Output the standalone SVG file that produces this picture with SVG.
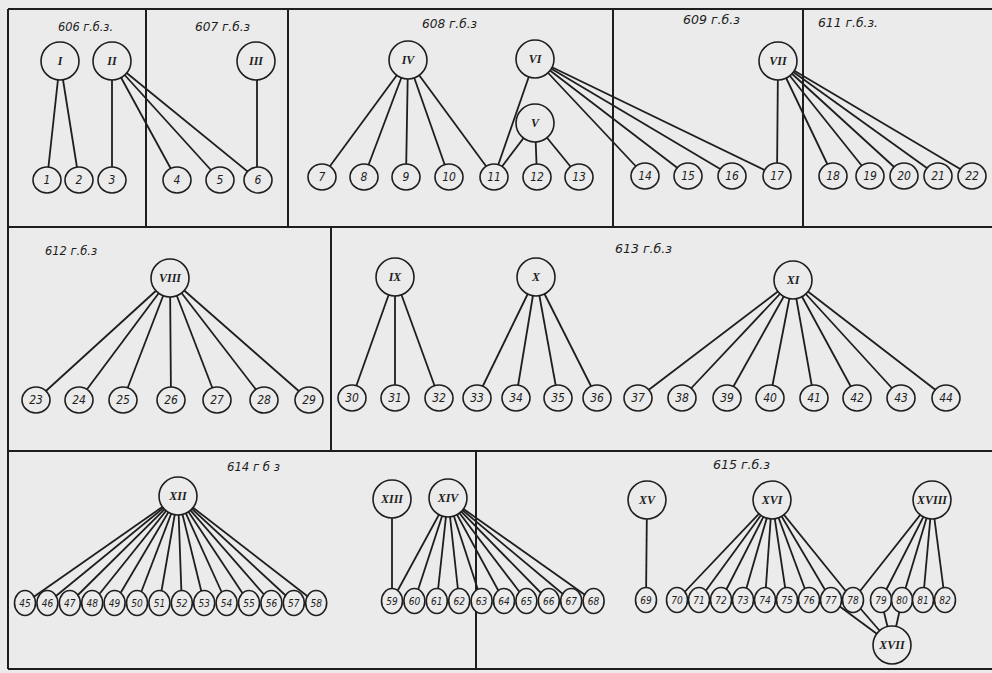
<svg xmlns="http://www.w3.org/2000/svg" width="992" height="673" viewBox="0 0 992 673">
<style>
.bg{fill:#ebebeb}
.fr{stroke:#1e1e1e;stroke-width:2;fill:none}
.e{stroke:#1e1e1e;stroke-width:1.8;fill:none}
.c{fill:#ebebeb;stroke:#1e1e1e;stroke-width:1.6}
.t{font-family:"DejaVu Sans Condensed","DejaVu Sans","Liberation Sans",sans-serif;font-style:italic;font-size:12px;fill:#1e1e1e;text-anchor:middle}
.s{font-size:10px}
.r{font-family:"Liberation Serif","DejaVu Serif",serif;font-style:italic;font-weight:bold;font-size:12px;fill:#1e1e1e;text-anchor:middle}
.lab{font-family:"DejaVu Sans Condensed","DejaVu Sans","Liberation Sans",sans-serif;font-style:italic;font-size:13px;fill:#1e1e1e}
</style>
<rect class="bg" x="0" y="0" width="992" height="673"/>
<g id="frame" class="fr">
<line x1="8" y1="9" x2="992" y2="9"/>
<line x1="8" y1="9" x2="8" y2="669"/>
<line x1="8" y1="227" x2="992" y2="227"/>
<line x1="8" y1="451" x2="992" y2="451"/>
<line x1="8" y1="669" x2="992" y2="669"/>
<line x1="146" y1="9" x2="146" y2="227"/>
<line x1="288" y1="9" x2="288" y2="227"/>
<line x1="613" y1="9" x2="613" y2="227"/>
<line x1="803" y1="9" x2="803" y2="227"/>
<line x1="331" y1="227" x2="331" y2="451"/>
<line x1="476" y1="451" x2="476" y2="669"/>
</g>
<g id="labels">
<text class="lab" x="58" y="31" textLength="55" lengthAdjust="spacingAndGlyphs">606 г.б.з.</text>
<text class="lab" x="195" y="31" textLength="55" lengthAdjust="spacingAndGlyphs">607 г.б.з</text>
<text class="lab" x="422" y="28" textLength="55" lengthAdjust="spacingAndGlyphs">608 г.б.з</text>
<text class="lab" x="683" y="24" textLength="57" lengthAdjust="spacingAndGlyphs">609 г.б.з</text>
<text class="lab" x="818" y="27" textLength="60" lengthAdjust="spacingAndGlyphs">611 г.б.з.</text>
<text class="lab" x="45" y="255" textLength="52" lengthAdjust="spacingAndGlyphs">612 г.б.з</text>
<text class="lab" x="615" y="253" textLength="57" lengthAdjust="spacingAndGlyphs">613 г.б.з</text>
<text class="lab" x="227" y="471" textLength="53" lengthAdjust="spacingAndGlyphs">614 г б з</text>
<text class="lab" x="713" y="469" textLength="57" lengthAdjust="spacingAndGlyphs">615 г.б.з</text>
</g>
<g id="connectors" class="e">
<line x1="60" y1="61" x2="47" y2="180"/>
<line x1="60" y1="61" x2="79" y2="180"/>
<line x1="112" y1="61" x2="112" y2="180"/>
<line x1="112" y1="61" x2="177" y2="180"/>
<line x1="112" y1="61" x2="220" y2="180"/>
<line x1="112" y1="61" x2="258" y2="180"/>
<line x1="257" y1="61" x2="257" y2="180"/>
<line x1="408" y1="60" x2="322" y2="177"/>
<line x1="408" y1="60" x2="364" y2="177"/>
<line x1="408" y1="60" x2="406" y2="177"/>
<line x1="408" y1="60" x2="449" y2="177"/>
<line x1="408" y1="60" x2="494" y2="177"/>
<line x1="535" y1="59" x2="494" y2="177"/>
<line x1="535" y1="123" x2="494" y2="177"/>
<line x1="535" y1="123" x2="537" y2="177"/>
<line x1="535" y1="123" x2="579" y2="177"/>
<line x1="535" y1="59" x2="645" y2="176"/>
<line x1="535" y1="59" x2="688" y2="176"/>
<line x1="535" y1="59" x2="732" y2="176"/>
<line x1="535" y1="59" x2="777" y2="176"/>
<line x1="778" y1="61" x2="777" y2="176"/>
<line x1="778" y1="61" x2="833" y2="176"/>
<line x1="778" y1="61" x2="870" y2="176"/>
<line x1="778" y1="61" x2="904" y2="176"/>
<line x1="778" y1="61" x2="938" y2="176"/>
<line x1="778" y1="61" x2="972" y2="176"/>
<line x1="170" y1="278" x2="36" y2="400"/>
<line x1="170" y1="278" x2="79" y2="400"/>
<line x1="170" y1="278" x2="123" y2="400"/>
<line x1="170" y1="278" x2="171" y2="400"/>
<line x1="170" y1="278" x2="217" y2="400"/>
<line x1="170" y1="278" x2="264" y2="400"/>
<line x1="170" y1="278" x2="309" y2="400"/>
<line x1="395" y1="277" x2="352" y2="398"/>
<line x1="395" y1="277" x2="395" y2="398"/>
<line x1="395" y1="277" x2="439" y2="398"/>
<line x1="536" y1="277" x2="477" y2="398"/>
<line x1="536" y1="277" x2="516" y2="398"/>
<line x1="536" y1="277" x2="558" y2="398"/>
<line x1="536" y1="277" x2="597" y2="398"/>
<line x1="793" y1="280" x2="638" y2="398"/>
<line x1="793" y1="280" x2="682" y2="398"/>
<line x1="793" y1="280" x2="727" y2="398"/>
<line x1="793" y1="280" x2="770" y2="398"/>
<line x1="793" y1="280" x2="814" y2="398"/>
<line x1="793" y1="280" x2="857" y2="398"/>
<line x1="793" y1="280" x2="901" y2="398"/>
<line x1="793" y1="280" x2="946" y2="398"/>
<line x1="178" y1="496" x2="25" y2="603"/>
<line x1="178" y1="496" x2="47.4" y2="603"/>
<line x1="178" y1="496" x2="69.8" y2="603"/>
<line x1="178" y1="496" x2="92.2" y2="603"/>
<line x1="178" y1="496" x2="114.6" y2="603"/>
<line x1="178" y1="496" x2="137" y2="603"/>
<line x1="178" y1="496" x2="159.4" y2="603"/>
<line x1="178" y1="496" x2="181.8" y2="603"/>
<line x1="178" y1="496" x2="204.2" y2="603"/>
<line x1="178" y1="496" x2="226.6" y2="603"/>
<line x1="178" y1="496" x2="249" y2="603"/>
<line x1="178" y1="496" x2="271.4" y2="603"/>
<line x1="178" y1="496" x2="293.8" y2="603"/>
<line x1="178" y1="496" x2="316.2" y2="603"/>
<line x1="392" y1="499" x2="392" y2="601"/>
<line x1="448" y1="498" x2="392" y2="601"/>
<line x1="448" y1="498" x2="414.4" y2="601"/>
<line x1="448" y1="498" x2="436.8" y2="601"/>
<line x1="448" y1="498" x2="459.2" y2="601"/>
<line x1="448" y1="498" x2="481.6" y2="601"/>
<line x1="448" y1="498" x2="504" y2="601"/>
<line x1="448" y1="498" x2="526.4" y2="601"/>
<line x1="448" y1="498" x2="548.8" y2="601"/>
<line x1="448" y1="498" x2="571.2" y2="601"/>
<line x1="448" y1="498" x2="593.6" y2="601"/>
<line x1="647" y1="500" x2="646" y2="600"/>
<line x1="772" y1="500" x2="677" y2="600"/>
<line x1="772" y1="500" x2="699" y2="600"/>
<line x1="772" y1="500" x2="721" y2="600"/>
<line x1="772" y1="500" x2="743" y2="600"/>
<line x1="772" y1="500" x2="765" y2="600"/>
<line x1="772" y1="500" x2="787" y2="600"/>
<line x1="772" y1="500" x2="809" y2="600"/>
<line x1="772" y1="500" x2="831" y2="600"/>
<line x1="772" y1="500" x2="853" y2="600"/>
<line x1="932" y1="500" x2="853" y2="600"/>
<line x1="932" y1="500" x2="881" y2="600"/>
<line x1="932" y1="500" x2="902" y2="600"/>
<line x1="932" y1="500" x2="923" y2="600"/>
<line x1="932" y1="500" x2="945" y2="600"/>
<line x1="892" y1="645" x2="831" y2="600"/>
<line x1="892" y1="645" x2="853" y2="600"/>
<line x1="892" y1="645" x2="881" y2="600"/>
<line x1="892" y1="645" x2="902" y2="600"/>
</g>
<g id="n-I"><circle class="c" cx="60" cy="61" r="19"/><text class="r" x="60" y="65">I</text></g>
<g id="n-II"><circle class="c" cx="112" cy="61" r="19"/><text class="r" x="112" y="65">II</text></g>
<g id="n-III"><circle class="c" cx="256" cy="61" r="19"/><text class="r" x="256" y="65">III</text></g>
<g id="n-IV"><circle class="c" cx="408" cy="60" r="19"/><text class="r" x="408" y="64">IV</text></g>
<g id="n-V"><circle class="c" cx="535" cy="123" r="19"/><text class="r" x="535" y="127">V</text></g>
<g id="n-VI"><circle class="c" cx="535" cy="59" r="19"/><text class="r" x="535" y="63">VI</text></g>
<g id="n-VII"><circle class="c" cx="778" cy="61" r="19"/><text class="r" x="778" y="65">VII</text></g>
<g id="n-VIII"><circle class="c" cx="170" cy="278" r="19"/><text class="r" x="170" y="282">VIII</text></g>
<g id="n-IX"><circle class="c" cx="395" cy="277" r="19"/><text class="r" x="395" y="281">IX</text></g>
<g id="n-X"><circle class="c" cx="536" cy="277" r="19"/><text class="r" x="536" y="281">X</text></g>
<g id="n-XI"><circle class="c" cx="793" cy="280" r="19"/><text class="r" x="793" y="284">XI</text></g>
<g id="n-XII"><circle class="c" cx="178" cy="496" r="19"/><text class="r" x="178" y="500">XII</text></g>
<g id="n-XIII"><circle class="c" cx="392" cy="499" r="19"/><text class="r" x="392" y="503">XIII</text></g>
<g id="n-XIV"><circle class="c" cx="448" cy="498" r="19"/><text class="r" x="448" y="502">XIV</text></g>
<g id="n-XV"><circle class="c" cx="647" cy="500" r="19"/><text class="r" x="647" y="504">XV</text></g>
<g id="n-XVI"><circle class="c" cx="772" cy="500" r="19"/><text class="r" x="772" y="504">XVI</text></g>
<g id="n-XVII"><circle class="c" cx="892" cy="645" r="19"/><text class="r" x="892" y="649">XVII</text></g>
<g id="n-XVIII"><circle class="c" cx="932" cy="500" r="19"/><text class="r" x="932" y="504">XVIII</text></g>
<g id="n-1"><ellipse class="c" cx="47" cy="180" rx="14" ry="13"/><text class="t" x="47" y="184">1</text></g>
<g id="n-2"><ellipse class="c" cx="79" cy="180" rx="14" ry="13"/><text class="t" x="79" y="184">2</text></g>
<g id="n-3"><ellipse class="c" cx="112" cy="180" rx="14" ry="13"/><text class="t" x="112" y="184">3</text></g>
<g id="n-4"><ellipse class="c" cx="177" cy="180" rx="14" ry="13"/><text class="t" x="177" y="184">4</text></g>
<g id="n-5"><ellipse class="c" cx="220" cy="180" rx="14" ry="13"/><text class="t" x="220" y="184">5</text></g>
<g id="n-6"><ellipse class="c" cx="258" cy="180" rx="14" ry="13"/><text class="t" x="258" y="184">6</text></g>
<g id="n-7"><ellipse class="c" cx="322" cy="177" rx="14" ry="13"/><text class="t" x="322" y="181">7</text></g>
<g id="n-8"><ellipse class="c" cx="364" cy="177" rx="14" ry="13"/><text class="t" x="364" y="181">8</text></g>
<g id="n-9"><ellipse class="c" cx="406" cy="177" rx="14" ry="13"/><text class="t" x="406" y="181">9</text></g>
<g id="n-10"><ellipse class="c" cx="449" cy="177" rx="14" ry="13"/><text class="t" x="449" y="181">10</text></g>
<g id="n-11"><ellipse class="c" cx="494" cy="177" rx="14" ry="13"/><text class="t" x="494" y="181">11</text></g>
<g id="n-12"><ellipse class="c" cx="537" cy="177" rx="14" ry="13"/><text class="t" x="537" y="181">12</text></g>
<g id="n-13"><ellipse class="c" cx="579" cy="177" rx="14" ry="13"/><text class="t" x="579" y="181">13</text></g>
<g id="n-14"><ellipse class="c" cx="645" cy="176" rx="14" ry="13"/><text class="t" x="645" y="180">14</text></g>
<g id="n-15"><ellipse class="c" cx="688" cy="176" rx="14" ry="13"/><text class="t" x="688" y="180">15</text></g>
<g id="n-16"><ellipse class="c" cx="732" cy="176" rx="14" ry="13"/><text class="t" x="732" y="180">16</text></g>
<g id="n-17"><ellipse class="c" cx="777" cy="176" rx="14" ry="13"/><text class="t" x="777" y="180">17</text></g>
<g id="n-18"><ellipse class="c" cx="833" cy="176" rx="14" ry="13"/><text class="t" x="833" y="180">18</text></g>
<g id="n-19"><ellipse class="c" cx="870" cy="176" rx="14" ry="13"/><text class="t" x="870" y="180">19</text></g>
<g id="n-20"><ellipse class="c" cx="904" cy="176" rx="14" ry="13"/><text class="t" x="904" y="180">20</text></g>
<g id="n-21"><ellipse class="c" cx="938" cy="176" rx="14" ry="13"/><text class="t" x="938" y="180">21</text></g>
<g id="n-22"><ellipse class="c" cx="972" cy="176" rx="14" ry="13"/><text class="t" x="972" y="180">22</text></g>
<g id="n-23"><ellipse class="c" cx="36" cy="400" rx="14" ry="13"/><text class="t" x="36" y="404">23</text></g>
<g id="n-24"><ellipse class="c" cx="79" cy="400" rx="14" ry="13"/><text class="t" x="79" y="404">24</text></g>
<g id="n-25"><ellipse class="c" cx="123" cy="400" rx="14" ry="13"/><text class="t" x="123" y="404">25</text></g>
<g id="n-26"><ellipse class="c" cx="171" cy="400" rx="14" ry="13"/><text class="t" x="171" y="404">26</text></g>
<g id="n-27"><ellipse class="c" cx="217" cy="400" rx="14" ry="13"/><text class="t" x="217" y="404">27</text></g>
<g id="n-28"><ellipse class="c" cx="264" cy="400" rx="14" ry="13"/><text class="t" x="264" y="404">28</text></g>
<g id="n-29"><ellipse class="c" cx="309" cy="400" rx="14" ry="13"/><text class="t" x="309" y="404">29</text></g>
<g id="n-30"><ellipse class="c" cx="352" cy="398" rx="14" ry="13"/><text class="t" x="352" y="402">30</text></g>
<g id="n-31"><ellipse class="c" cx="395" cy="398" rx="14" ry="13"/><text class="t" x="395" y="402">31</text></g>
<g id="n-32"><ellipse class="c" cx="439" cy="398" rx="14" ry="13"/><text class="t" x="439" y="402">32</text></g>
<g id="n-33"><ellipse class="c" cx="477" cy="398" rx="14" ry="13"/><text class="t" x="477" y="402">33</text></g>
<g id="n-34"><ellipse class="c" cx="516" cy="398" rx="14" ry="13"/><text class="t" x="516" y="402">34</text></g>
<g id="n-35"><ellipse class="c" cx="558" cy="398" rx="14" ry="13"/><text class="t" x="558" y="402">35</text></g>
<g id="n-36"><ellipse class="c" cx="597" cy="398" rx="14" ry="13"/><text class="t" x="597" y="402">36</text></g>
<g id="n-37"><ellipse class="c" cx="638" cy="398" rx="14" ry="13"/><text class="t" x="638" y="402">37</text></g>
<g id="n-38"><ellipse class="c" cx="682" cy="398" rx="14" ry="13"/><text class="t" x="682" y="402">38</text></g>
<g id="n-39"><ellipse class="c" cx="727" cy="398" rx="14" ry="13"/><text class="t" x="727" y="402">39</text></g>
<g id="n-40"><ellipse class="c" cx="770" cy="398" rx="14" ry="13"/><text class="t" x="770" y="402">40</text></g>
<g id="n-41"><ellipse class="c" cx="814" cy="398" rx="14" ry="13"/><text class="t" x="814" y="402">41</text></g>
<g id="n-42"><ellipse class="c" cx="857" cy="398" rx="14" ry="13"/><text class="t" x="857" y="402">42</text></g>
<g id="n-43"><ellipse class="c" cx="901" cy="398" rx="14" ry="13"/><text class="t" x="901" y="402">43</text></g>
<g id="n-44"><ellipse class="c" cx="946" cy="398" rx="14" ry="13"/><text class="t" x="946" y="402">44</text></g>
<g id="n-45"><ellipse class="c" cx="25" cy="603" rx="10.5" ry="12.5"/><text class="t s" x="25" y="606.5">45</text></g>
<g id="n-46"><ellipse class="c" cx="47.4" cy="603" rx="10.5" ry="12.5"/><text class="t s" x="47.4" y="606.5">46</text></g>
<g id="n-47"><ellipse class="c" cx="69.8" cy="603" rx="10.5" ry="12.5"/><text class="t s" x="69.8" y="606.5">47</text></g>
<g id="n-48"><ellipse class="c" cx="92.2" cy="603" rx="10.5" ry="12.5"/><text class="t s" x="92.2" y="606.5">48</text></g>
<g id="n-49"><ellipse class="c" cx="114.6" cy="603" rx="10.5" ry="12.5"/><text class="t s" x="114.6" y="606.5">49</text></g>
<g id="n-50"><ellipse class="c" cx="137" cy="603" rx="10.5" ry="12.5"/><text class="t s" x="137" y="606.5">50</text></g>
<g id="n-51"><ellipse class="c" cx="159.4" cy="603" rx="10.5" ry="12.5"/><text class="t s" x="159.4" y="606.5">51</text></g>
<g id="n-52"><ellipse class="c" cx="181.8" cy="603" rx="10.5" ry="12.5"/><text class="t s" x="181.8" y="606.5">52</text></g>
<g id="n-53"><ellipse class="c" cx="204.2" cy="603" rx="10.5" ry="12.5"/><text class="t s" x="204.2" y="606.5">53</text></g>
<g id="n-54"><ellipse class="c" cx="226.6" cy="603" rx="10.5" ry="12.5"/><text class="t s" x="226.6" y="606.5">54</text></g>
<g id="n-55"><ellipse class="c" cx="249" cy="603" rx="10.5" ry="12.5"/><text class="t s" x="249" y="606.5">55</text></g>
<g id="n-56"><ellipse class="c" cx="271.4" cy="603" rx="10.5" ry="12.5"/><text class="t s" x="271.4" y="606.5">56</text></g>
<g id="n-57"><ellipse class="c" cx="293.8" cy="603" rx="10.5" ry="12.5"/><text class="t s" x="293.8" y="606.5">57</text></g>
<g id="n-58"><ellipse class="c" cx="316.2" cy="603" rx="10.5" ry="12.5"/><text class="t s" x="316.2" y="606.5">58</text></g>
<g id="n-59"><ellipse class="c" cx="392" cy="601" rx="10.5" ry="12.5"/><text class="t s" x="392" y="604.5">59</text></g>
<g id="n-60"><ellipse class="c" cx="414.4" cy="601" rx="10.5" ry="12.5"/><text class="t s" x="414.4" y="604.5">60</text></g>
<g id="n-61"><ellipse class="c" cx="436.8" cy="601" rx="10.5" ry="12.5"/><text class="t s" x="436.8" y="604.5">61</text></g>
<g id="n-62"><ellipse class="c" cx="459.2" cy="601" rx="10.5" ry="12.5"/><text class="t s" x="459.2" y="604.5">62</text></g>
<g id="n-63"><ellipse class="c" cx="481.6" cy="601" rx="10.5" ry="12.5"/><text class="t s" x="481.6" y="604.5">63</text></g>
<g id="n-64"><ellipse class="c" cx="504" cy="601" rx="10.5" ry="12.5"/><text class="t s" x="504" y="604.5">64</text></g>
<g id="n-65"><ellipse class="c" cx="526.4" cy="601" rx="10.5" ry="12.5"/><text class="t s" x="526.4" y="604.5">65</text></g>
<g id="n-66"><ellipse class="c" cx="548.8" cy="601" rx="10.5" ry="12.5"/><text class="t s" x="548.8" y="604.5">66</text></g>
<g id="n-67"><ellipse class="c" cx="571.2" cy="601" rx="10.5" ry="12.5"/><text class="t s" x="571.2" y="604.5">67</text></g>
<g id="n-68"><ellipse class="c" cx="593.6" cy="601" rx="10.5" ry="12.5"/><text class="t s" x="593.6" y="604.5">68</text></g>
<g id="n-69"><ellipse class="c" cx="646" cy="600" rx="10.5" ry="12.5"/><text class="t s" x="646" y="603.5">69</text></g>
<g id="n-70"><ellipse class="c" cx="677" cy="600" rx="10.5" ry="12.5"/><text class="t s" x="677" y="603.5">70</text></g>
<g id="n-71"><ellipse class="c" cx="699" cy="600" rx="10.5" ry="12.5"/><text class="t s" x="699" y="603.5">71</text></g>
<g id="n-72"><ellipse class="c" cx="721" cy="600" rx="10.5" ry="12.5"/><text class="t s" x="721" y="603.5">72</text></g>
<g id="n-73"><ellipse class="c" cx="743" cy="600" rx="10.5" ry="12.5"/><text class="t s" x="743" y="603.5">73</text></g>
<g id="n-74"><ellipse class="c" cx="765" cy="600" rx="10.5" ry="12.5"/><text class="t s" x="765" y="603.5">74</text></g>
<g id="n-75"><ellipse class="c" cx="787" cy="600" rx="10.5" ry="12.5"/><text class="t s" x="787" y="603.5">75</text></g>
<g id="n-76"><ellipse class="c" cx="809" cy="600" rx="10.5" ry="12.5"/><text class="t s" x="809" y="603.5">76</text></g>
<g id="n-77"><ellipse class="c" cx="831" cy="600" rx="10.5" ry="12.5"/><text class="t s" x="831" y="603.5">77</text></g>
<g id="n-78"><ellipse class="c" cx="853" cy="600" rx="10.5" ry="12.5"/><text class="t s" x="853" y="603.5">78</text></g>
<g id="n-79"><ellipse class="c" cx="881" cy="600" rx="10.5" ry="12.5"/><text class="t s" x="881" y="603.5">79</text></g>
<g id="n-80"><ellipse class="c" cx="902" cy="600" rx="10.5" ry="12.5"/><text class="t s" x="902" y="603.5">80</text></g>
<g id="n-81"><ellipse class="c" cx="923" cy="600" rx="10.5" ry="12.5"/><text class="t s" x="923" y="603.5">81</text></g>
<g id="n-82"><ellipse class="c" cx="945" cy="600" rx="10.5" ry="12.5"/><text class="t s" x="945" y="603.5">82</text></g>
</svg>
